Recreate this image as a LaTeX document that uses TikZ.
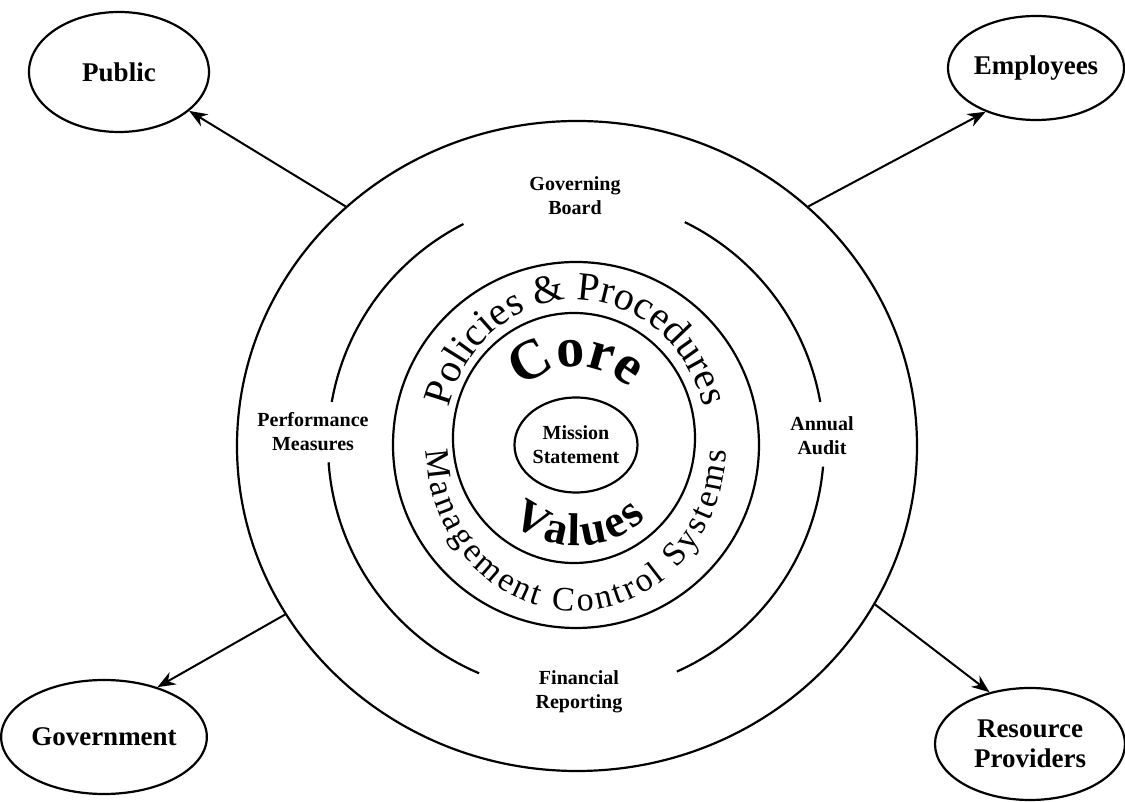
\documentclass[tikz,border=0pt]{standalone}
\usepackage{fontspec}
\setmainfont{Liberation Serif}
\usetikzlibrary{shapes.geometric}
\usetikzlibrary{arrows.meta}
\usetikzlibrary{decorations.text}

\begin{document}
\begin{tikzpicture}[x=1pt, y=1pt, line width=2.2pt,
    stake/.style={ellipse, draw, inner sep=0pt, align=center, font=\fontsize{27}{30}\selectfont\bfseries},
    ringtext/.style={align=center, font=\fontsize{20}{24}\selectfont\bfseries},
    flow/.style={-{Stealth[length=18pt, width=14pt]}, line width=2pt}]
    \useasboundingbox (-576,-357) rectangle (549,445);

    % Circles in the middle
    \node[ellipse, draw, minimum width=680pt, minimum height=650pt] (outer) at (1,-1) {};
    \draw (0,0) circle (183);
    \draw (-2,7) ellipse [x radius=121, y radius=125];
    \node[ellipse, draw, minimum width=123pt, minimum height=95pt, inner sep=0pt, ringtext] (mission) at (0,0) {Mission\\Statement};
    \foreach \a/\b in {10/64, 117/170, 184/247, 294/355}
        \draw (\a:248) arc[start angle=\a, end angle=\b, radius=248];

    % Labels on the broken ring
    \node[ringtext] (board) at (-1,249) {Governing\\Board};
    \node[ringtext] (measures) at (-263,13) {Performance\\Measures};
    \node[ringtext] (audit) at (246,9) {Annual\\Audit};
    \node[ringtext] (reporting) at (3,-247) {Financial\\Reporting};

    % Curved texts
    \path[decorate, decoration={text along path, text align={fit to path},
        text={|\fontsize{40}{40}\selectfont|Policies {\&} Procedures}}]
        (165:132 and 145) arc[start angle=165, end angle=15, x radius=132, y radius=145];
    \path[decorate, decoration={text along path, text align={fit to path},
        text={|\fontsize{34}{34}\selectfont|Management Control Systems}}]
        (182:150 and 166) arc[start angle=182, end angle=358, x radius=150, y radius=166];
    \path[decorate, decoration={text along path, text align=center,
        text={|\fontsize{56}{56}\selectfont\bfseries|Core}}]
        (170:78) arc[start angle=170, end angle=10, radius=78];
    \path[decorate, decoration={text along path, text align={fit to path},
        text={|\fontsize{46}{46}\selectfont\bfseries|Values}}]
        (230:101) arc[start angle=230, end angle=314, radius=101];

    % Stakeholders
    \node[stake, minimum width=180pt, minimum height=120pt] (public) at (-457,373) {Public};
    \node[stake, minimum width=174pt, minimum height=104pt] (employees) at (460,377) {Employees};
    \node[stake, minimum width=182pt, minimum height=114pt] (government) at (-472,-292) {Government};
    \node[stake, minimum width=190pt, minimum height=112pt] (resource) at (454,-299) {Resource\\Providers};

    \draw[flow] (outer.134) -- (public.-29);
    \draw[flow] (outer.46) -- (employees.221);
    \draw[flow] (outer.210) -- (government.43);
    \draw[flow] (outer.-28) -- (resource.128);
\end{tikzpicture}
\end{document}
